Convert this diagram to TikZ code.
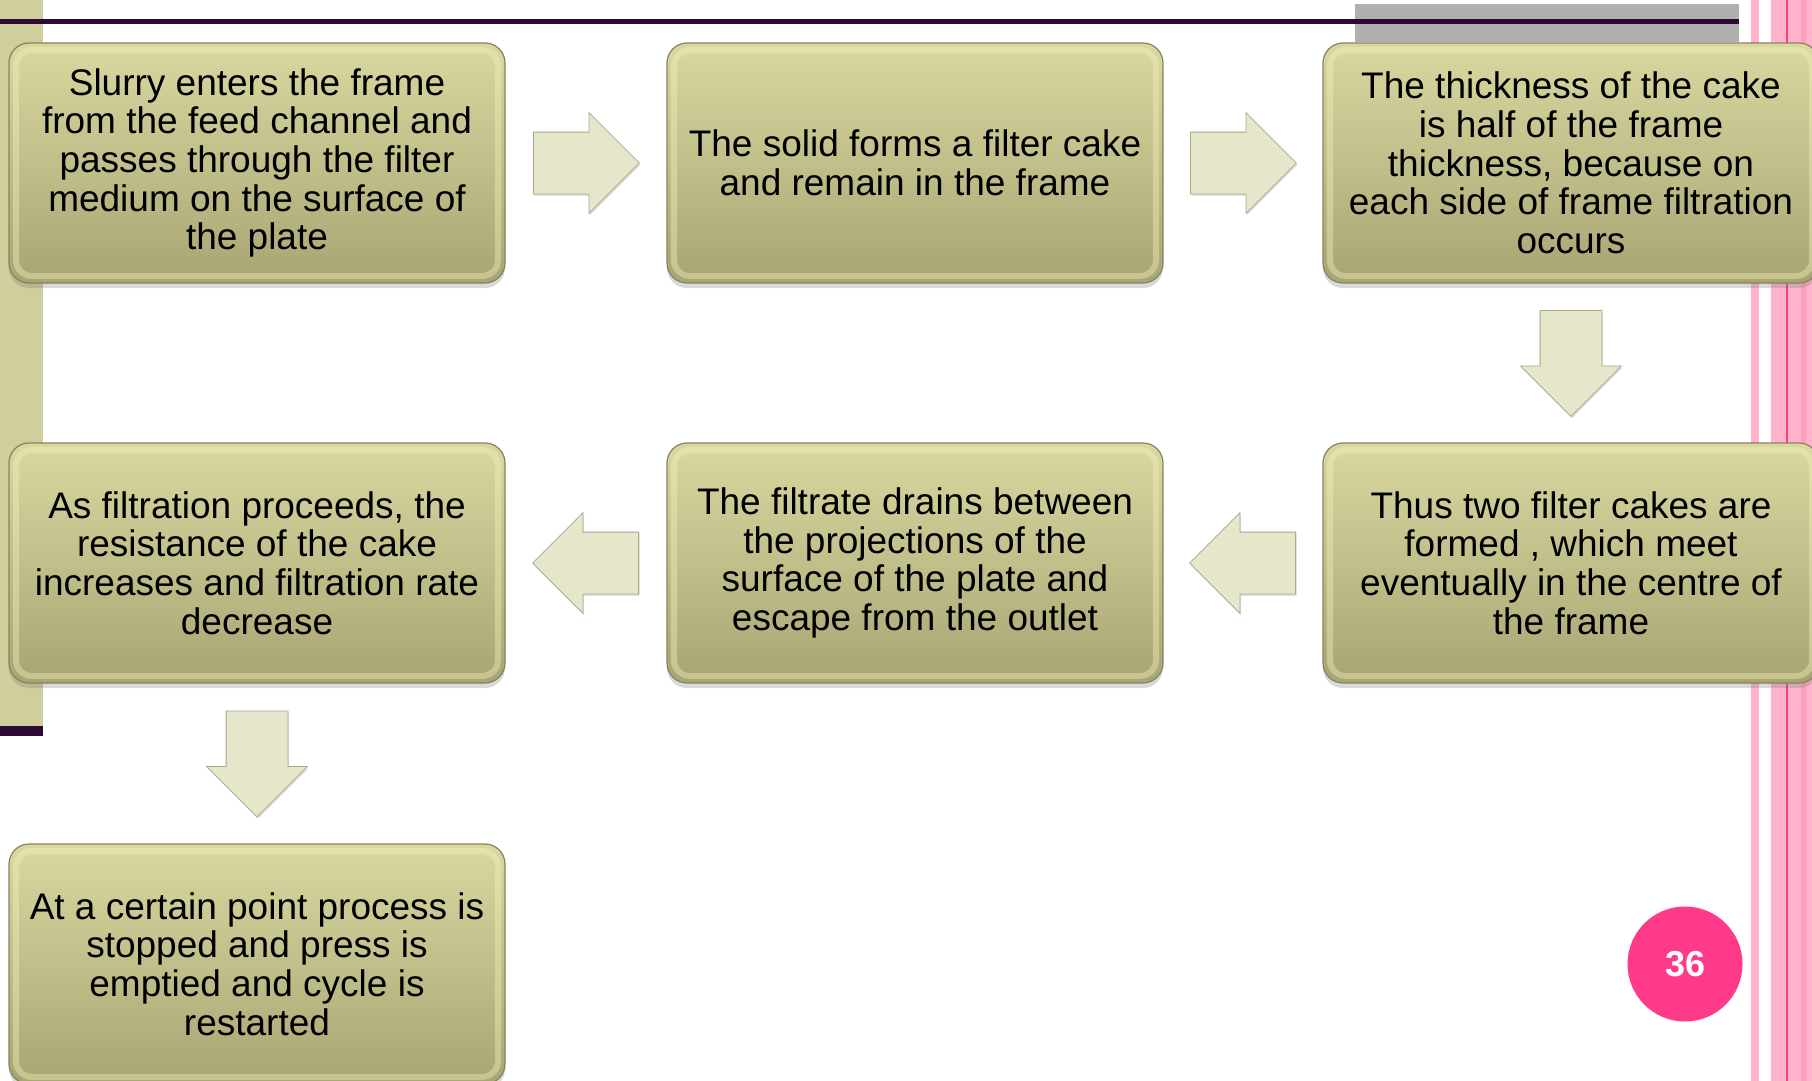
\documentclass[tikz,border=0pt]{standalone}
\usepackage{fontspec}
\setmainfont{Liberation Sans}
\usetikzlibrary{shapes.arrows,shadows,calc}

\definecolor{boxtop}{HTML}{D9D8A0}
\definecolor{boxbottom}{HTML}{A8A573}
\definecolor{boxedge}{HTML}{85835F}
\definecolor{boxrim}{HTML}{F4F3BC}
\definecolor{arrowfill}{HTML}{E6E6CB}
\definecolor{arrowedge}{HTML}{A9A88C}
\definecolor{stripbg}{HTML}{CFCE9C}
\definecolor{darkplum}{HTML}{2D0A36}
\definecolor{graybar}{HTML}{B0B0B0}
\definecolor{lightpink}{HTML}{FFB3CB}
\definecolor{midpink}{HTML}{FF9DBE}
\definecolor{hotpink}{HTML}{FF3A8A}

\begin{document}
\begin{tikzpicture}
        [x=1pt, y=-1pt,
        stepbox/.style={rectangle, rounded corners=20pt, draw=boxedge, line width=1.2pt,
            top color=boxtop, bottom color=boxbottom, minimum width=496pt, minimum height=240pt,
            inner sep=0pt, align=center, font=\fontsize{37}{38.7}\selectfont,
            drop shadow={shadow xshift=0pt, shadow yshift=-5pt, opacity=0.3},
            path picture={\draw[boxrim, line width=6pt, opacity=0.4, rounded corners=16pt]
                ([shift={(7,7)}]path picture bounding box.north west) rectangle
                ([shift={(-7,-7)}]path picture bounding box.south east);}},
        blockarrow/.style={single arrow, single arrow head extend=19.5pt, single arrow tip angle=90,
            single arrow head indent=0pt, minimum height=106pt, minimum width=100pt, inner sep=30.5pt,
            fill=arrowfill, draw=arrowedge, line width=0.8pt, anchor=tail,
            drop shadow={shadow xshift=1pt, shadow yshift=-2pt, opacity=0.25}},
        pagenum/.style={circle, fill=hotpink, minimum size=115pt, inner sep=0pt, text=white,
            font=\bfseries\fontsize{36}{36}\selectfont}]
        \useasboundingbox (0,0) rectangle (1812,1081);
        \clip (0,0) rectangle (1812,1081);

        % slide background
        \fill[stripbg] (0,0) rectangle (43,726);
        \fill[darkplum] (0,726) rectangle (43,736);
        \fill[graybar] (1355,4) rectangle (1739,42);
        \fill[darkplum] (0,19) rectangle (1739,24);
        \fill[lightpink] (1751,0) rectangle (1759,1081);
        \fill[lightpink] (1771,0) rectangle (1812,1081);
        \fill[hotpink] (1786,0) rectangle (1788,1081);
        \fill[midpink] (1801,0) rectangle (1806,1081);

        \node[stepbox] (feed) at (257,163) {Slurry enters the frame\\from the feed channel and\\passes through the filter\\medium on the surface of\\the plate};
        \node[stepbox] (cake) at (915,163) {The solid forms a filter cake\\and remain in the frame};
        \node[stepbox] (half) at (1571,163) {The thickness of the cake\\is half of the frame\\thickness, because on\\each side of frame filtration\\occurs};
        \node[stepbox] (meet) at (1571,563) {Thus two filter cakes are\\formed , which meet\\eventually in the centre of\\the frame};
        \node[stepbox] (drain) at (915,563) {The filtrate drains between\\the projections of the\\surface of the plate and\\escape from the outlet};
        \node[stepbox] (rate) at (257,563) {As filtration proceeds, the\\resistance of the cake\\increases and filtration rate\\decrease};
        \node[stepbox] (stop) at (257,964) {At a certain point process is\\stopped and press is\\emptied and cycle is\\restarted};

        % arrows sit halfway between the boxes, tail 53pt back from the middle
        \node[blockarrow, xshift=-53pt] (a1) at ($(feed.east)!0.5!(cake.west)$) {};
        \node[blockarrow, xshift=-53pt] (a2) at ($(cake.east)!0.5!(half.west)$) {};
        \node[blockarrow, shape border rotate=270, yshift=53pt] (a3) at ($(half.south)!0.5!(meet.north)$) {};
        \node[blockarrow, shape border rotate=180, xshift=53pt] (a4) at ($(meet.west)!0.5!(drain.east)$) {};
        \node[blockarrow, shape border rotate=180, xshift=53pt] (a5) at ($(drain.west)!0.5!(rate.east)$) {};
        \node[blockarrow, shape border rotate=270, yshift=53pt] (a6) at ($(rate.south)!0.5!(stop.north)$) {};

        \node[pagenum] (num) at (1685,964) {36};
    \end{tikzpicture}
\end{document}
